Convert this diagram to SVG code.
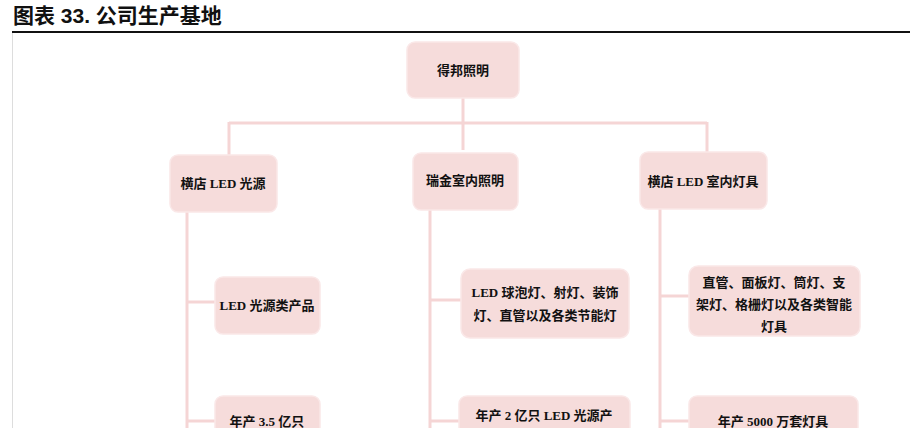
<svg xmlns="http://www.w3.org/2000/svg" width="910" height="428" viewBox="0 0 910 428">
<style>
.b{fill:#f6dcdb;stroke:#fae8e8;stroke-width:1.5}
.t{font-family:"Liberation Serif","Noto Sans CJK SC",serif;font-size:13px;font-weight:bold;fill:#111;text-anchor:middle}
.c{fill:none;stroke:#f5d5d5;stroke-width:3}
</style>
<rect width="910" height="428" fill="#fff"/>
<text x="13" y="23" style="font-family:'Liberation Sans','Noto Sans CJK SC',sans-serif;font-size:21px;font-weight:bold;fill:#111">图表 33. 公司生产基地</text>
<line x1="12" y1="32" x2="910" y2="32" stroke="#111" stroke-width="2"/>
<line x1="12.5" y1="33" x2="12.5" y2="428" stroke="#ddd" stroke-width="1"/>
<g id="connectors" class="c">
<path d="M463 98V150M229 123H707M229 122V155M707 122V152"/>
<path d="M187 212V428M187 302H216M187 421H216"/>
<path d="M430 210V428M430 300H461M430 421H459"/>
<path d="M660 209V428M660 296H689M660 421H689"/>
</g>
<g id="n0"><rect class="b" x="407" y="42" width="112" height="56" rx="8"/><text class="t" x="463" y="75">得邦照明</text></g>
<g id="n1"><rect class="b" x="170" y="155" width="107" height="57" rx="8"/><text class="t" x="223" y="188">横店 LED 光源</text></g>
<g id="n2"><rect class="b" x="413" y="153" width="105" height="57" rx="8"/><text class="t" x="465" y="185">瑞金室内照明</text></g>
<g id="n3"><rect class="b" x="640" y="152" width="127" height="57" rx="8"/><text class="t" x="703" y="186">横店 LED 室内灯具</text></g>
<g id="n4"><rect class="b" x="215" y="277" width="105" height="57" rx="8"/><text class="t" x="267" y="310">LED 光源类产品</text></g>
<g id="n5"><rect class="b" x="461" y="269" width="168" height="69" rx="9"/><text class="t" x="545" y="297">LED 球泡灯、射灯、装饰</text><text class="t" x="545" y="320">灯、直管以及各类节能灯</text></g>
<g id="n6"><rect class="b" x="689" y="266" width="171" height="70" rx="9"/><text class="t" x="774" y="287">直管、面板灯、筒灯、支</text><text class="t" x="774" y="309">架灯、格栅灯以及各类智能</text><text class="t" x="774" y="331">灯具</text></g>
<g id="n7"><rect class="b" x="215" y="396" width="105" height="50" rx="8"/><text class="t" x="267" y="426">年产 3.5 亿只</text></g>
<g id="n8"><rect class="b" x="459" y="396" width="171" height="50" rx="8"/><text class="t" x="544" y="420">年产 2 亿只 LED 光源产</text></g>
<g id="n9"><rect class="b" x="689" y="396" width="169" height="50" rx="8"/><text class="t" x="773" y="426">年产 5000 万套灯具</text></g>
</svg>
